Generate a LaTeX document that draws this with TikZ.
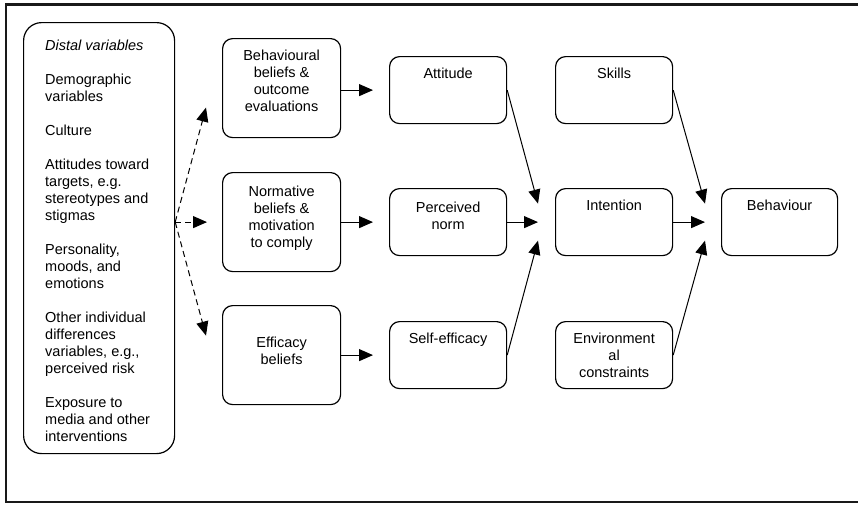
\documentclass[tikz,border=0pt]{standalone}
\usepackage{fontspec}
\setmainfont{Liberation Sans}
\usetikzlibrary{arrows.meta,calc}
\begin{document}
\begin{tikzpicture}[x=1pt,y=-1pt,
	box/.style={draw,line width=1.2pt,rounded corners=10pt,anchor=north west,inner sep=0pt,minimum width=118pt},
	tall/.style={box,minimum height=99pt},
	short/.style={box,minimum width=117pt,minimum height=67pt},
	boxtext/.style={anchor=north,inner sep=0pt,yshift=-12pt,align=center,font=\fontsize{14.5}{17}\selectfont},
	arr/.style={line width=1pt,-{Triangle[length=14pt,width=12pt]}},
	darr/.style={arr,dash pattern=on 6pt off 4pt}]
	\useasboundingbox (0,0) rectangle (858,504);
	\draw[line width=2.2pt,black!90] (858,4.5) -- (6,4.5) -- (6,502) -- (858,502);
	\node[box,minimum width=151pt,minimum height=431pt,rounded corners=18pt,
		label={[anchor=north west,inner sep=0pt,align=left,font=\fontsize{14.5}{17}\selectfont,xshift=22pt,yshift=-18pt]north west:{\itshape Distal variables\\[17pt]
			Demographic\\variables\\[17pt]
			Culture\\[17pt]
			Attitudes toward\\targets, e.g.\\stereotypes and\\stigmas\\[17pt]
			Personality,\\moods, and\\emotions\\[17pt]
			Other individual\\differences\\variables, e.g.,\\perceived risk\\[17pt]
			Exposure to\\media and other\\interventions}}] (distal) at (23,22) {};
	\node[tall,label={[boxtext]north:Behavioural\\beliefs \&\\outcome\\evaluations}] (beh) at (222,38) {};
	\node[tall,label={[boxtext,yshift=-2pt]north:Normative\\beliefs \&\\motivation\\to comply}] (norm) at (222,172) {};
	\node[tall,label={[boxtext,yshift=-20pt]north:Efficacy\\beliefs}] (eff) at (222,305) {};
	\node[short,label={[boxtext]north:Attitude}] (att) at (389,56) {};
	\node[short,label={[boxtext,yshift=-2pt]north:Perceived\\norm}] (pn) at (389,188) {};
	\node[short,label={[boxtext]north:Self-efficacy}] (se) at (389,321) {};
	\node[short,label={[boxtext]north:Skills}] (sk) at (555,56) {};
	\node[short,label={[boxtext]north:Intention}] (int) at (555,188) {};
	\node[short,label={[boxtext]north:Environment\\al\\constraints}] (env) at (555,321) {};
	\node[short,minimum width=116pt,label={[boxtext]north:Behaviour}] (bhv) at (721,188) {};
	\coordinate (fork) at (distal.east |- norm.west);
	\draw[darr] (fork) -- ($(beh.west)+(-16,19.5)$);
	\draw[darr] (fork) -- ($(norm.west)+(-15,0)$);
	\draw[darr] (fork) -- ($(eff.west)+(-16,-19.5)$);
	\draw[arr] (beh.east |- att.west) -- ($(att.west)+(-16,0)$);
	\draw[arr] (norm.east) -- ($(pn.west)+(-16,0)$);
	\draw[arr] (eff.east) -- ($(se.west)+(-16,0)$);
	\draw[arr] (att.east) -- ($(int.west)+(-17,-18.5)$);
	\draw[arr] (pn.east) -- ($(int.west)+(-17,0)$);
	\draw[arr] (se.east) -- ($(int.west)+(-17,18.5)$);
	\draw[arr] (sk.east) -- ($(bhv.west)+(-16,-18.5)$);
	\draw[arr] (int.east) -- ($(bhv.west)+(-16,0)$);
	\draw[arr] (env.east) -- ($(bhv.west)+(-16,18.5)$);
\end{tikzpicture}
\end{document}
